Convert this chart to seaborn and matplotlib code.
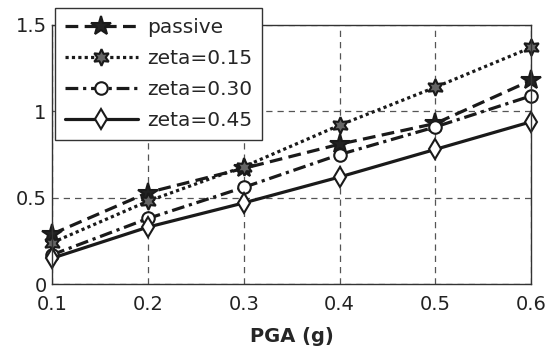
import numpy as np
import matplotlib
matplotlib.use("Agg")
import matplotlib.pyplot as plt
import seaborn as sns
import pandas as pd

# PGA levels and peak responses
pga = [0.1, 0.2, 0.3, 0.4, 0.5, 0.6]
passive = [0.29, 0.53, 0.67, 0.81, 0.93, 1.18]
zeta_015 = [0.24, 0.48, 0.68, 0.92, 1.14, 1.37]
zeta_030 = [0.17, 0.38, 0.56, 0.75, 0.91, 1.09]
zeta_045 = [0.15, 0.33, 0.47, 0.62, 0.78, 0.94]

names = ["passive", "zeta=0.15", "zeta=0.30", "zeta=0.45"]
df = pd.DataFrame({
    "PGA": pga * 4,
    "resp": passive + zeta_015 + zeta_030 + zeta_045,
    "case": sum([[n] * len(pga) for n in names], []),
})

sns.set_style("white")
plt.rcParams["font.family"] = ["DejaVu Sans"]

fig = plt.figure(figsize=(5.5, 3.52), dpi=100)
ax = fig.add_axes([0.095, 0.193, 0.871, 0.736])

styles = {
    "passive": dict(ls=(0, (4, 2)), marker="*", ms=15, mfc="#222222"),
    "zeta=0.15": dict(ls=(0, (1, 1)), marker=(6, 1, 0), ms=12, mfc="#666666"),
    "zeta=0.30": dict(ls=(0, (4, 1.5, 1, 1.5)), marker="o", ms=9, mfc="white"),
    "zeta=0.45": dict(ls="-", marker="d", ms=10, mfc="white"),
}
for n in names:
    st = styles[n]
    sns.lineplot(data=df[df["case"] == n], x="PGA", y="resp", ax=ax, label=n,
                 color="#1a1a1a", lw=2.3, linestyle=st["ls"], marker=st["marker"],
                 markersize=st["ms"], markerfacecolor=st["mfc"],
                 markeredgecolor="#1a1a1a", markeredgewidth=1.5, clip_on=False)

ax.set_xlim(0.1, 0.6)
ax.set_ylim(0, 1.5)
ax.set_xticks(pga)
ax.set_xticklabels(["0.1", "0.2", "0.3", "0.4", "0.5", "0.6"])
ax.set_yticks([0, 0.5, 1, 1.5])
ax.set_yticklabels(["0", "0.5", "1", "1.5"])
ax.tick_params(labelsize=14, colors="#222222", length=3, direction="in")
ax.tick_params(axis="x", pad=8)
ax.tick_params(axis="y", pad=4)
ax.grid(True, ls=(0, (5, 4)), color="#555555", lw=0.9)
for s in ax.spines.values():
    s.set_color("#333333")
    s.set_linewidth(1.0)
ax.set_xlabel("PGA (g)", fontsize=14, fontweight="bold", labelpad=9)
ax.set_ylabel("")

leg = ax.legend(loc="upper left", bbox_to_anchor=(0.006, 1.066), fontsize=14.5,
                handlelength=3.6, frameon=True, fancybox=False, framealpha=1,
                edgecolor="#333333", borderpad=0.5, labelspacing=0.6,
                handletextpad=0.45, borderaxespad=0)
leg.get_frame().set_linewidth(1.0)

fig.savefig("out.png", dpi=100)
